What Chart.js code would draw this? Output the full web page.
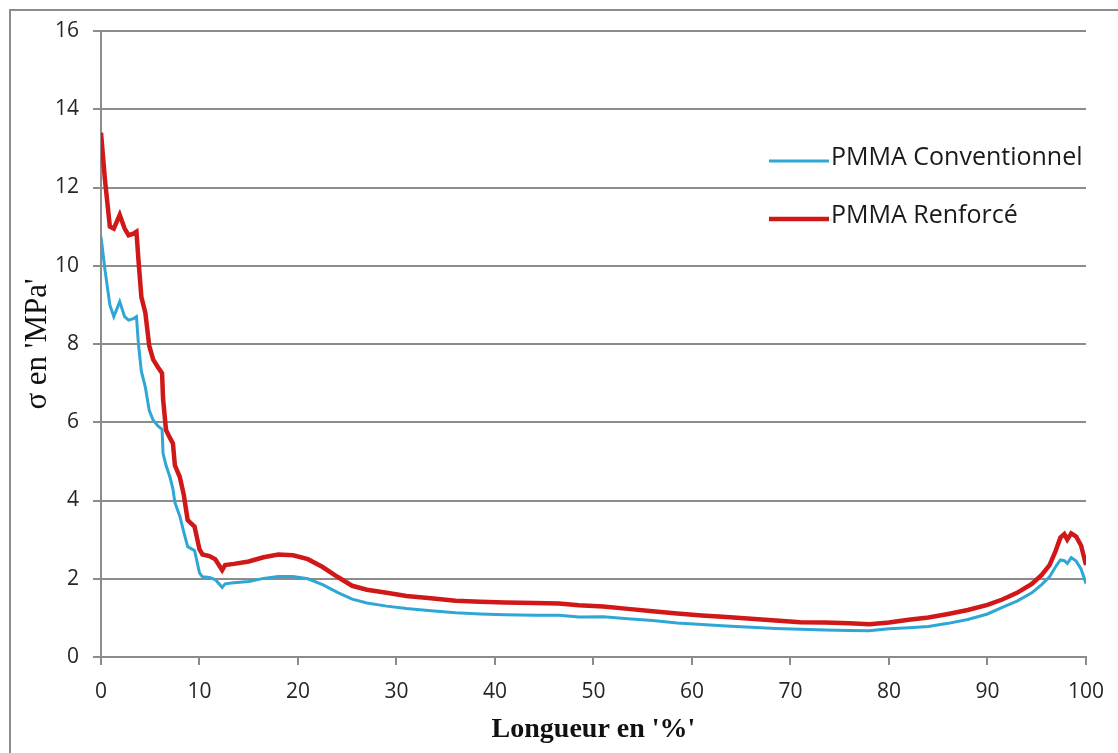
<!DOCTYPE html>
<html>
<head>
<meta charset="utf-8">
<script src="https://cdn.jsdelivr.net/npm/chart.js@4.4.1/dist/chart.umd.min.js"></script>
<style>
    html, body { margin: 0; padding: 0; background: #fff; }
    #wrap { width: 1118px; height: 753px; }
</style>
</head>
<body>
<div id="wrap"><canvas id="chart" width="1118" height="753"></canvas></div>
<script>
// Position along the specimen, in %
const lengthPct = [
    0, 0.4, 0.9, 1.3, 1.9, 2.4, 2.8, 3.3, 3.6, 3.8,
    4.1, 4.5, 4.9, 5.3, 5.8, 6.2, 6.3, 6.6, 7.0, 7.3,
    7.5, 8.0, 8.4, 8.8, 9.5, 10.0, 10.3, 11.0, 11.6, 12.3,
    12.6, 13.5, 15, 16.5, 18, 19.5, 21, 22.5, 24, 25.5,
    27, 29, 31, 33.5, 36, 38.5, 41, 44, 46.5, 48.5,
    51, 53.5, 56, 58.5, 61, 63.5, 66, 68.5, 71, 73.5,
    76, 78, 80, 82, 84, 86, 88, 90, 91.5, 93,
    94.5, 95.5, 96.3, 96.9, 97.4, 97.8, 98.1, 98.5, 99.0, 99.5,
    100,
];

// Stress in MPa, conventional PMMA
const stressConv = [
    10.74, 9.9, 9.0, 8.7, 9.08, 8.7, 8.61, 8.65, 8.7, 8.0,
    7.3, 6.9, 6.3, 6.05, 5.9, 5.82, 5.2, 4.9, 4.6, 4.3,
    3.95, 3.6, 3.2, 2.82, 2.72, 2.15, 2.05, 2.03, 1.98, 1.78,
    1.87, 1.9, 1.93, 2.01, 2.06, 2.06, 2.0, 1.85, 1.65, 1.48,
    1.38, 1.3, 1.24, 1.18, 1.13, 1.1, 1.08, 1.07, 1.07, 1.02,
    1.03, 0.98, 0.93, 0.87, 0.83, 0.79, 0.76, 0.73, 0.71, 0.69,
    0.68, 0.67, 0.72, 0.75, 0.78, 0.86, 0.96, 1.1, 1.27, 1.43,
    1.64, 1.85, 2.05, 2.3, 2.48, 2.46, 2.39, 2.54, 2.45, 2.25,
    1.88,
];

// Stress in MPa, reinforced PMMA
const stressRenf = [
    13.4, 12.2, 11.0, 10.95, 11.3, 10.95, 10.78, 10.82, 10.87, 10.15,
    9.2, 8.8, 7.95, 7.6, 7.4, 7.25, 6.6, 5.8, 5.6, 5.46,
    4.9, 4.6, 4.15, 3.5, 3.33, 2.75, 2.62, 2.58, 2.5, 2.22,
    2.35, 2.38, 2.44, 2.55, 2.62, 2.6, 2.5, 2.3, 2.05, 1.82,
    1.72, 1.64, 1.56, 1.5, 1.44, 1.41, 1.39, 1.38, 1.37, 1.32,
    1.29, 1.23, 1.17, 1.11, 1.06, 1.02, 0.98, 0.93, 0.89, 0.88,
    0.86, 0.84, 0.88, 0.95, 1.01, 1.1, 1.2, 1.33, 1.47, 1.64,
    1.87, 2.1, 2.35, 2.7, 3.05, 3.14, 3.0, 3.16, 3.08, 2.85,
    2.35,
];

const seriesNames = ["PMMA Conventionnel", "PMMA Renforcé"];
const xTitle = "Longueur en '%'";
const yTitle = "\u03C3 en 'MPa'";

const GRID = "#8c8c8c";
const TICK_FONT = { family: "'Open Sans', sans-serif", size: 21 };

const toPoints = (ys) => ys.map((y, i) => ({ x: lengthPct[i], y }));

// white page with the frame lines along the top and left edge
const frame = {
    id: "frame",
    beforeDraw(chart) {
        const ctx = chart.ctx;
        ctx.save();
        ctx.fillStyle = "#fff";
        ctx.fillRect(0, 0, chart.width, chart.height);
        ctx.strokeStyle = GRID;
        ctx.lineWidth = 2;
        ctx.beginPath();
        ctx.moveTo(10, chart.height);
        ctx.lineTo(10, 10);
        ctx.lineTo(chart.width, 10);
        ctx.stroke();
        ctx.restore();
    },
};

// legend sitting inside the plot, top right
const insideLegend = {
    id: "insideLegend",
    afterDraw(chart) {
        const ctx = chart.ctx;
        const area = chart.chartArea;
        const x0 = area.right - 317;
        ctx.save();
        ctx.font = "25px 'Open Sans', sans-serif";
        ctx.textBaseline = "middle";
        ctx.fillStyle = "#1a1a1a";
        chart.data.datasets.forEach((ds, i) => {
            const y = area.top + 127 + i * 58;
            ctx.strokeStyle = ds.borderColor;
            ctx.lineWidth = ds.borderWidth;
            ctx.beginPath();
            ctx.moveTo(x0, y + 3);
            ctx.lineTo(x0 + 60, y + 3);
            ctx.stroke();
            ctx.fillText(ds.label, x0 + 62, y);
        });
        ctx.restore();
    },
};

new Chart(document.getElementById("chart"), {
    type: "line",
    data: {
        datasets: [
            {
                label: seriesNames[0],
                data: toPoints(stressConv),
                borderColor: "#2ea6d6",
                borderWidth: 3,
                pointRadius: 0,
                tension: 0,
                fill: false,
            },
            {
                label: seriesNames[1],
                data: toPoints(stressRenf),
                borderColor: "#d01818",
                borderWidth: 4.5,
                pointRadius: 0,
                tension: 0,
                fill: false,
            },
        ],
    },
    options: {
        responsive: false,
        animation: false,
        layout: { padding: { top: 31, right: 31, left: 0, bottom: 0 } },
        plugins: {
            legend: { display: false },
            tooltip: { enabled: false },
        },
        scales: {
            x: {
                type: "linear",
                min: 0,
                max: 100,
                afterFit: (scale) => { scale.height = 96; },
                ticks: { stepSize: 10, color: "#262626", font: TICK_FONT, padding: 14, maxRotation: 0 },
                grid: { drawOnChartArea: false, color: GRID, lineWidth: 2, tickLength: 8 },
                border: { color: GRID, width: 2 },
                title: {
                    display: true,
                    text: xTitle,
                    color: "#111",
                    font: { family: "'Liberation Serif', serif", size: 28, weight: "bold" },
                    padding: { top: 0, bottom: 6 },
                },
            },
            y: {
                min: 0,
                max: 16,
                afterFit: (scale) => { scale.width = 101; },
                ticks: { stepSize: 2, color: "#262626", font: TICK_FONT, padding: 14 },
                grid: { color: GRID, lineWidth: 2, tickLength: 8 },
                border: { color: GRID, width: 2 },
                title: {
                    display: true,
                    text: yTitle,
                    color: "#111",
                    font: { family: "'Liberation Serif', serif", size: 31 },
                    padding: { top: 19, bottom: 0 },
                },
            },
        },
    },
    plugins: [frame, insideLegend],
});
</script>
</body>
</html>
